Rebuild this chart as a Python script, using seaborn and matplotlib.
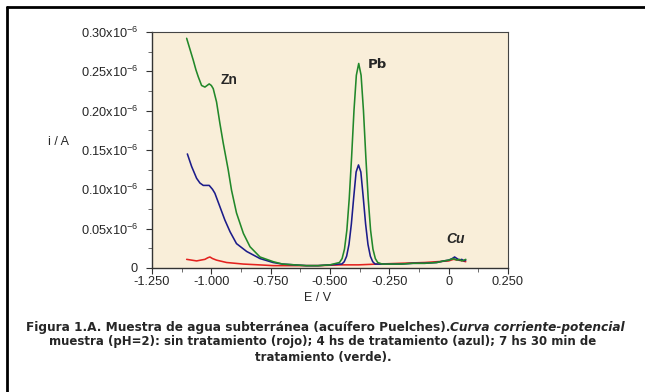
import numpy as np
import pandas as pd
import seaborn as sns
import matplotlib
matplotlib.use("Agg")
import matplotlib.pyplot as plt
from matplotlib.lines import Line2D
from matplotlib.ticker import FixedLocator, MultipleLocator

# ---------------- data (current in units of 1e-6 A) ----------------
E_verde = [-1.104, -1.090, -1.076, -1.065, -1.055, -1.041, -1.027, -1.018, -1.009, -1.000,
           -0.992, -0.978, -0.964, -0.950, -0.929, -0.915, -0.894, -0.865, -0.837, -0.795,
           -0.739, -0.700, -0.650, -0.600, -0.550, -0.500, -0.460, -0.449, -0.439, -0.429,
           -0.419, -0.409, -0.399, -0.389, -0.379, -0.369, -0.359, -0.349, -0.339, -0.329,
           -0.319, -0.309, -0.299, -0.280, -0.250, -0.200, -0.150, -0.100, -0.050, -0.020,
           0.000, 0.020, 0.035, 0.045, 0.055, 0.065, 0.072]
i_verde = [0.292, 0.278, 0.264, 0.252, 0.243, 0.232, 0.230, 0.232, 0.234, 0.232,
           0.228, 0.211, 0.184, 0.159, 0.125, 0.099, 0.070, 0.044, 0.027, 0.014,
           0.008, 0.005, 0.004, 0.003, 0.003, 0.004, 0.007, 0.012, 0.024, 0.048,
           0.088, 0.141, 0.200, 0.245, 0.260, 0.245, 0.200, 0.141, 0.088, 0.048,
           0.024, 0.012, 0.007, 0.005, 0.005, 0.005, 0.006, 0.006, 0.007, 0.009,
           0.010, 0.012, 0.010, 0.011, 0.009, 0.010, 0.011]

E_azul = [-1.101, -1.083, -1.062, -1.048, -1.034, -1.020, -1.009, -0.995, -0.985, -0.964,
          -0.943, -0.921, -0.894, -0.851, -0.795, -0.740, -0.700, -0.650, -0.600, -0.550,
          -0.500, -0.460, -0.450, -0.440, -0.430, -0.420, -0.410, -0.400, -0.390, -0.380,
          -0.370, -0.360, -0.350, -0.340, -0.330, -0.320, -0.310, -0.300, -0.280, -0.250,
          -0.200, -0.150, -0.100, -0.050, -0.020, 0.000, 0.015, 0.025, 0.035, 0.045,
          0.055, 0.065, 0.072]
i_azul = [0.145, 0.129, 0.114, 0.108, 0.105, 0.105, 0.105, 0.100, 0.095, 0.078,
          0.061, 0.046, 0.031, 0.021, 0.012, 0.007, 0.005, 0.004, 0.003, 0.003,
          0.004, 0.005, 0.005, 0.008, 0.015, 0.030, 0.056, 0.090, 0.122, 0.131,
          0.122, 0.090, 0.056, 0.030, 0.015, 0.008, 0.005, 0.005, 0.005, 0.005,
          0.005, 0.006, 0.006, 0.007, 0.009, 0.010, 0.012, 0.014, 0.012, 0.010,
          0.011, 0.009, 0.010]

E_rojo = [-1.104, -1.083, -1.062, -1.045, -1.027, -1.015, -1.006, -0.995, -0.978, -0.936,
          -0.865, -0.800, -0.739, -0.650, -0.550, -0.450, -0.380, -0.300, -0.200, -0.100,
          -0.050, 0.000, 0.020, 0.040, 0.060, 0.072]
i_rojo = [0.011, 0.010, 0.009, 0.010, 0.011, 0.013, 0.014, 0.012, 0.010, 0.007,
          0.005, 0.004, 0.003, 0.003, 0.003, 0.004, 0.004, 0.005, 0.006, 0.007,
          0.008, 0.009, 0.011, 0.010, 0.009, 0.008]

x_ticks = [-1.25, -1.0, -0.75, -0.5, -0.25, 0.0, 0.25]
x_ticklabels = ["-1.250", "-1.000", "-0.750", "-0.500", "-0.250", "0", "0.250"]
y_ticks = [0.0, 0.05, 0.10, 0.15, 0.20, 0.25, 0.30]
y_ticklabels = ["0", r"0.05x10$^{-6}$", r"0.10x10$^{-6}$", r"0.15x10$^{-6}$",
                r"0.20x10$^{-6}$", r"0.25x10$^{-6}$", r"0.30x10$^{-6}$"]

caption_1a = "Figura 1.A. Muestra de agua subterránea (acuífero Puelches)."
caption_1b = "Curva corriente-potencial"
caption_2 = "muestra (pH=2): sin tratamiento (rojo); 4 hs de tratamiento (azul); 7 hs 30 min de"
caption_3 = "tratamiento (verde)."

# ---------------- figure ----------------
sns.set_style("white")
plt.rcParams["font.family"] = ["Liberation Sans", "DejaVu Sans"]
plt.rcParams["mathtext.fontset"] = "custom"
plt.rcParams["mathtext.rm"] = "Liberation Sans"
plt.rcParams["mathtext.it"] = "Liberation Sans:italic"

fig = plt.figure(figsize=(6.45, 3.92), dpi=100)
fig.patch.set_facecolor("white")
ax = fig.add_axes([152 / 645, 1 - 268 / 392, 356 / 645, 236 / 392])
ax.set_facecolor("#f9eed9")

df = pd.concat([
    pd.DataFrame({"E": E_rojo, "i": i_rojo, "serie": "rojo"}),
    pd.DataFrame({"E": E_azul, "i": i_azul, "serie": "azul"}),
    pd.DataFrame({"E": E_verde, "i": i_verde, "serie": "verde"}),
])
palette = {"rojo": "#e3221f", "azul": "#1c1c8a", "verde": "#22882a"}
for s in ["rojo", "azul", "verde"]:
    sub = df[df["serie"] == s]
    sns.lineplot(data=sub, x="E", y="i", color=palette[s], linewidth=1.15,
                 sort=False, estimator=None, ax=ax, legend=False)

ax.set_xlim(-1.25, 0.25)
ax.set_ylim(0, 0.30)
ax.xaxis.set_major_locator(FixedLocator(x_ticks))
ax.set_xticklabels(x_ticklabels)
ax.xaxis.set_minor_locator(MultipleLocator(0.125))
ax.yaxis.set_major_locator(FixedLocator(y_ticks))
ax.set_yticklabels(y_ticklabels)
ax.yaxis.set_minor_locator(MultipleLocator(0.025))

ax.tick_params(axis="both", which="major", direction="out", length=4, width=0.8,
               color="#333333", labelsize=9.2)
ax.tick_params(axis="x", which="major", pad=1.5)
ax.tick_params(axis="y", which="major", pad=6)
ax.tick_params(axis="both", which="minor", direction="out", length=3, width=0.6,
               color="#555555")
ax.tick_params(axis="x", which="both", bottom=True)
ax.tick_params(axis="y", which="both", left=True)

for side in ["left", "bottom"]:
    ax.spines[side].set_color("#333333")
    ax.spines[side].set_linewidth(1.0)
for side in ["top", "right"]:
    ax.spines[side].set_visible(True)
    ax.spines[side].set_color("#444444")
    ax.spines[side].set_linewidth(0.8)

ax.set_xlabel("")
ax.set_ylabel("")
fig.text(58 / 645, 1 - 142 / 392, "i / A", fontsize=9, ha="center", va="center")
fig.text(318 / 645, 1 - 298 / 392, "E / V", fontsize=9, ha="center", va="center")

ax.text(-0.926, 0.239, "Zn", fontsize=10, fontweight="bold", ha="center", va="center")
ax.text(-0.302, 0.259, "Pb", fontsize=9.5, family="DejaVu Sans", fontweight="bold",
        ha="center", va="center")
ax.text(0.031, 0.037, "Cu", fontsize=10, style="italic", fontweight="bold",
        ha="center", va="center")

# caption
cap_kw = dict(fontweight="bold", family="DejaVu Sans", va="center")
fig.text(450 / 645, 1 - 327 / 392, caption_1a, ha="right", fontsize=8.7, **cap_kw)
fig.text(450 / 645, 1 - 327 / 392, caption_1b, ha="left", style="italic",
         fontsize=8.7, **cap_kw)
fig.text(323 / 645, 1 - 342 / 392, caption_2, ha="center", fontsize=8.5, **cap_kw)
fig.text(323 / 645, 1 - 358 / 392, caption_3, ha="center", fontsize=8.5, **cap_kw)

# outer frame (top and left)
fig.add_artist(Line2D([7 / 645, 1.0], [1 - 7 / 392, 1 - 7 / 392], color="black",
                      linewidth=2.0, transform=fig.transFigure))
fig.add_artist(Line2D([7 / 645, 7 / 645], [0.0, 1 - 7 / 392], color="black",
                      linewidth=2.0, transform=fig.transFigure))

fig.savefig("out.png", dpi=100)
